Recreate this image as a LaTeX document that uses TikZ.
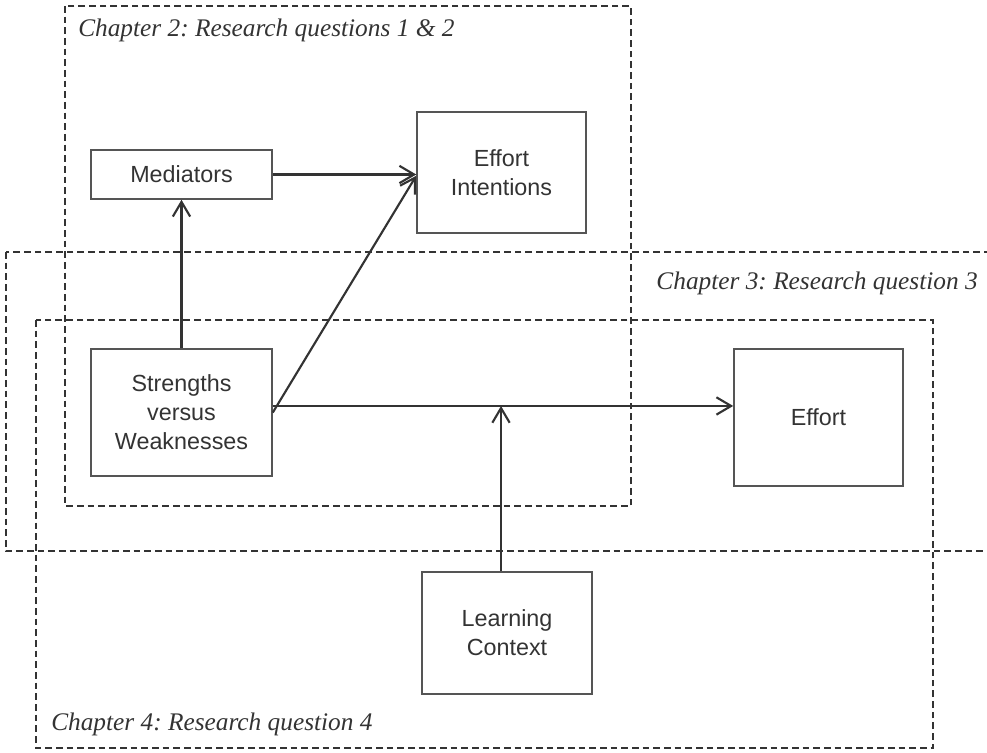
\documentclass[tikz,border=0pt]{standalone}
\usepackage{fontspec}
\setmainfont{Liberation Serif}
\setsansfont{Liberation Sans}
\usepackage{tikz}
\usetikzlibrary{positioning, arrows.meta}
\definecolor{inkgray}{HTML}{333333}
\definecolor{boxgray}{HTML}{555555}
\frenchspacing

\begin{document}
\begin{tikzpicture}[x=0.75pt, y=-0.75pt,
	>={Straight Barb[length=11pt, width=13pt]},
	box/.style={draw=boxgray, line width=1.2pt, align=center, inner sep=0pt, text=inkgray,
		font=\sffamily\fontsize{17.5}{21.75}\selectfont},
	chapter/.style={draw=inkgray, line width=1.7pt, dash pattern=on 5pt off 3pt},
	chaptertext/.style={text=inkgray, inner sep=0pt, font=\itshape\fontsize{19}{22}\selectfont},
	link/.style={->, draw=inkgray, line width=1.6pt}]
			\useasboundingbox (0,0) rectangle (987,752);
			\clip (0,0) rectangle (987,752);
			\draw[chapter] (65,6) rectangle (631,506);
			\draw[chapter] (6,252) rectangle (1010,551);
			\draw[chapter] (36,320) rectangle (933,748);
			\node[chaptertext, anchor=base west] (ch2) at (78,37) {Chapter 2: Research questions 1 \& 2};
			\node[chaptertext, anchor=base east] (ch3) at (978,289) {Chapter 3: Research question 3};
			\node[chaptertext, anchor=base west] (ch4) at (51,730) {Chapter 4: Research question 4};
			\node[box, minimum width=135.75pt, minimum height=36.75pt] (med) at (181.5,174.5) {Mediators};
			\node[box, minimum width=126.75pt, minimum height=90.75pt] (intent) at (501.5,172.5) {Effort\\Intentions};
			\node[box, minimum width=135.75pt, minimum height=95.25pt] (sw) at (181.5,412.5) {Strengths\\versus\\Weaknesses};
			\node[box, minimum width=126.75pt, minimum height=102.75pt] (effort) at (818.5,417.5) {Effort};
			\node[box, minimum width=127.5pt, minimum height=91.5pt] (context) at (507,633) {Learning\\Context};
			\coordinate (split) at ([yshift=4.9pt]sw.east);
			\coordinate (meet) at ([xshift=-4.5pt]context.north |- split);
			\draw[link] (med.east) -- (med.east -| intent.west);
			\draw[link] (sw.north) -- (med.south);
			\draw[link] (sw.east) -- ([yshift=-1pt]med.east -| intent.west);
			\draw[link] (split) -- (split -| effort.west);
			\draw[link] ([xshift=-4.5pt]context.north) -- (meet);
		\end{tikzpicture}
\end{document}
